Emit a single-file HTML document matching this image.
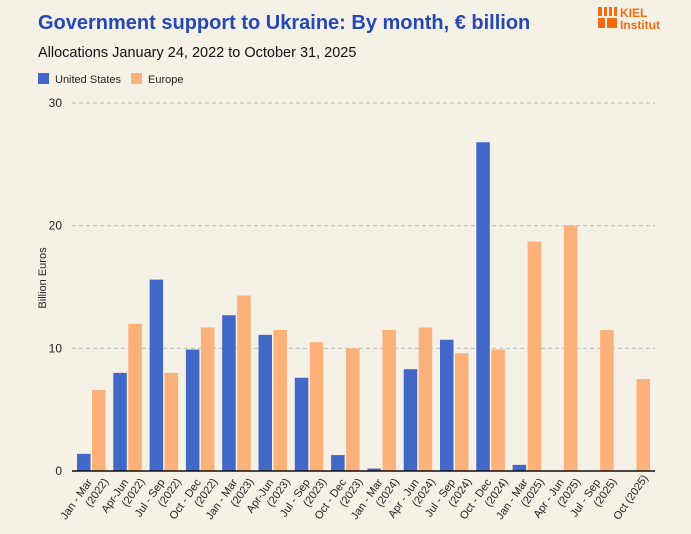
<!DOCTYPE html>
<html><head><meta charset="utf-8"><style>
body{margin:0;background:#f6f1e7;font-family:"Liberation Sans",sans-serif;}
#wrap{position:relative;width:691px;height:534px;overflow:hidden;background:#f6f1e7;}
</style></head><body>
<div id="wrap">
<svg id="chart" width="691" height="534">
<text x="38" y="29" font-size="20" font-weight="bold" fill="#2548b5">Government support to Ukraine: By month, € billion</text>
<text x="38" y="57" font-size="14.5" fill="#111">Allocations January 24, 2022 to October 31, 2025</text>
<g>
<rect x="38" y="73" width="11" height="11" fill="#4168c6"/>
<text x="55" y="83" font-size="11" fill="#222">United States</text>
<rect x="131" y="73" width="11" height="11" fill="#fcb07a"/>
<text x="148" y="83" font-size="11" fill="#222">Europe</text>
</g>
<g>
<rect x="598" y="7" width="4" height="9" fill="#f26b0f"/><rect x="604" y="7" width="3" height="9" fill="#f26b0f"/><rect x="609" y="7" width="3" height="9" fill="#f26b0f"/><rect x="614" y="7" width="3" height="9" fill="#f26b0f"/>
<rect x="598" y="18" width="7" height="10" fill="#f26b0f"/><rect x="607" y="18" width="10" height="10" fill="#f26b0f"/>
<text x="620" y="17" font-size="12" font-weight="bold" fill="#f26b0f">KIEL</text>
<text x="620" y="29" font-size="12" font-weight="bold" fill="#f26b0f">Institut</text>
</g>
<text transform="translate(46,278) rotate(-90)" text-anchor="middle" font-size="11" fill="#222">Billion Euros</text>
<g id="grid"></g><g id="bars"></g><g id="xlabels"></g>
</svg>
</div>
<script>
const categories=["Jan - Mar|(2022)","Apr-Jun|(2022)","Jul - Sep|(2022)","Oct - Dec|(2022)","Jan - Mar|(2023)","Apr-Jun|(2023)","Jul - Sep|(2023)","Oct - Dec|(2023)","Jan - Mar|(2024)","Apr - Jun|(2024)","Jul - Sep|(2024)","Oct - Dec|(2024)","Jan - Mar|(2025)","Apr - Jun|(2025)","Jul - Sep|(2025)","Oct (2025)"];
const usValues=[1.4,8.0,15.6,9.9,12.7,11.1,7.6,1.3,0.2,8.3,10.7,26.8,0.5,0,0,0];
const europeValues=[6.6,12.0,8.0,11.7,14.3,11.5,10.5,10.0,11.5,11.7,9.6,9.9,18.7,20.0,11.5,7.5];
const yTicks=[0,10,20,30];
const NS="http://www.w3.org/2000/svg";
const y0=471,yTop=103,yMax=30,x0=72,step=36.3;
const y=v=>y0-(v/yMax)*(y0-yTop);
const x=i=>x0+i*step;
function mk(t,a,p){const e=document.createElementNS(NS,t);for(const k in a)e.setAttribute(k,a[k]);p.appendChild(e);return e;}
const grid=document.getElementById('grid'),bars=document.getElementById('bars'),xl=document.getElementById('xlabels');
yTicks.forEach(t=>{
  if(t>0){const l=mk('line',{x1:x0,x2:655,y1:y(t),y2:y(t),stroke:'#bbb','stroke-dasharray':'4,3'},grid);
  
  }
  const tx=mk('text',{x:62,y:y(t)+4,'text-anchor':'end','font-size':12,fill:'#222'},grid);
  tx.textContent=t;
  
  
});
categories.forEach((c,i)=>{
  const b=mk('rect',{x:x(i)+5,y:y(usValues[i]),width:13.5,height:y0-y(usValues[i]),fill:'#4168c6'},bars);
  
  
  const o=mk('rect',{x:x(i)+20,y:y(europeValues[i]),width:13.5,height:y0-y(europeValues[i]),fill:'#fcb07a'},bars);
  
  
  const parts=c.split('|');
  const cx=x(i)+32;
  const g=mk('text',{transform:`translate(${cx},478) rotate(-55)`,'text-anchor':'end','font-size':11,fill:'#222'},xl);
  
  
  parts.forEach((p,j)=>{const s=mk('tspan',{x:0,dy:j?13:0},g);s.textContent=p;});
  if(parts.length>1){g.firstChild.setAttribute('x',-10);g.firstChild.setAttribute('dy',-7);g.lastChild.setAttribute('x',0);}
});
const ax=mk('line',{x1:x0,x2:655,y1:y0,y2:y0,stroke:'#111','stroke-width':1.5},bars);


</script>
</body></html>
